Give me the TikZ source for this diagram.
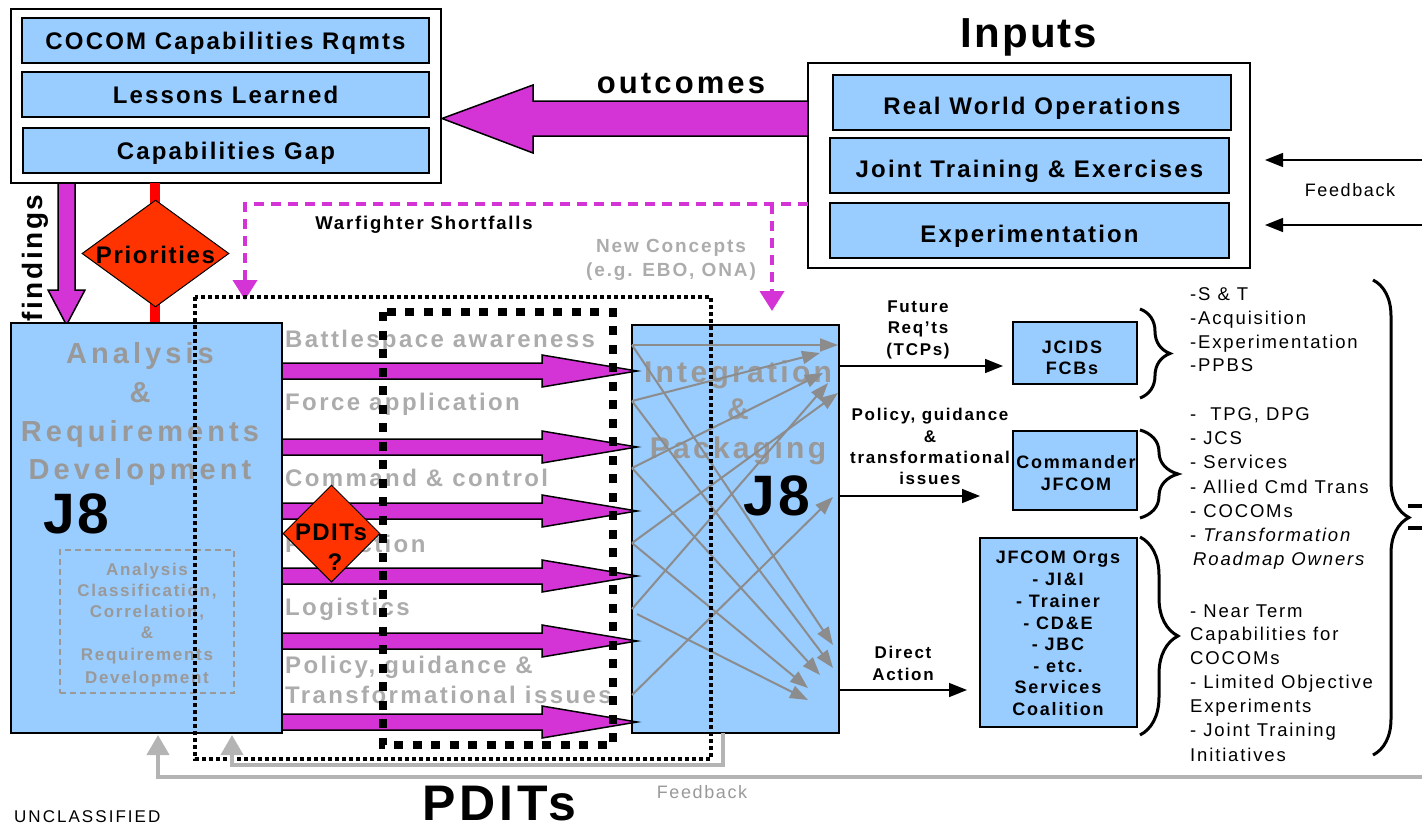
\documentclass[tikz,border=0pt]{standalone}
\usepackage{fontspec}
\setmainfont{Liberation Sans}
\usetikzlibrary{arrows.meta,shapes.geometric,decorations.pathreplacing}
\definecolor{boxblue}{RGB}{153,204,255}
\definecolor{mag}{RGB}{212,51,214}
\definecolor{prio}{RGB}{255,51,0}
\definecolor{gtxt}{RGB}{153,153,153}
\definecolor{glab}{RGB}{172,172,172}
\definecolor{garr}{RGB}{140,140,140}
\definecolor{gfb}{RGB}{180,180,180}
\newcommand\tf[3]{\fontsize{#1}{#2}\selectfont\addfontfeatures{LetterSpace=#3}}
\tikzset{
  bbox/.style={draw=black, line width=2pt, fill=boxblue, inner sep=0pt},
  wbox/.style={draw=black, line width=2pt, fill=white, inner sep=0pt},
  bigtxt/.style={font=\bfseries\tf{24}{29}{9}, text height=18pt, text depth=0pt},
  inptxt/.style={font=\bfseries\tf{24}{29}{9}, text height=23pt, text depth=0pt},
  magblock/.style={fill=mag, draw=black, line width=1.5pt, line join=miter},
  wfline/.style={draw=mag, line width=4pt, dash pattern=on 10pt off 7pt, -{Triangle[length=20pt,width=24pt]}},
  garrow/.style={draw=garr, line width=2pt, -{Triangle[length=18pt,width=13pt]}},
  blarrow/.style={draw=black, line width=1.5pt, -{Triangle[length=18pt,width=14pt]}},
  fbline/.style={draw=gfb, line width=4pt, -{Triangle[length=20pt,width=22pt]}},
  plabel/.style={text=glab, font=\bfseries\tf{24}{28}{10}, anchor=base west, inner sep=0pt},
  gbig/.style={text=gtxt, font=\bfseries\tf{29}{35}{14}, anchor=base, inner sep=0pt},
  gsmall/.style={text=gtxt, font=\bfseries\tf{17}{21}{10}, anchor=base, inner sep=0pt},
  lbl/.style={font=\bfseries\tf{17}{21}{10}, anchor=base, inner sep=0pt},
  boxtxt/.style={font=\bfseries\tf{18}{22}{10}, anchor=base, inner sep=0pt},
  rlist/.style={font=\tf{18.5}{22}{10}, anchor=base west, inner sep=0pt},
  brc/.style={draw=black, line width=3pt, decorate, decoration={brace, amplitude=#1}},
}
\begin{document}
\begin{tikzpicture}[x=1pt,y=-1pt]
\useasboundingbox (0,0) rectangle (1422,827);

% ---------- top-left findings box ----------
\node[wbox, minimum width=430pt, minimum height=174pt] (findbox) at (226,96) {};
\node[bbox, bigtxt, minimum width=407pt, minimum height=45pt] (cocom) at (225.5,40.5) {COCOM Capabilities Rqmts};
\node[bbox, bigtxt, minimum width=407pt, minimum height=45pt] (lessons) at (225.5,94.5) {Lessons Learned};
\node[bbox, bigtxt, minimum width=406pt, minimum height=45pt] (capgap) at (226,150.5) {Capabilities Gap};

% ---------- Inputs ----------
\node[font=\bfseries\tf{42}{48}{5}, anchor=base, inner sep=0pt] (inputstitle) at (1029,47) {Inputs};
\node[wbox, minimum width=442pt, minimum height=205pt] (inputs) at (1029,165.5) {};
\node[bbox, inptxt, minimum width=398pt, minimum height=55pt] (rwo) at (1032,102.5) {Real World Operations};
\node[bbox, inptxt, minimum width=399pt, minimum height=55pt] (jte) at (1029.5,165.5) {Joint Training \& Exercises};
\node[bbox, inptxt, minimum width=399pt, minimum height=55pt] (expm) at (1029.5,230.5) {Experimentation};

% feedback arrows into Inputs
\coordinate (fb1s) at (1422,160); \coordinate (fb1e) at (1265,160);
\coordinate (fb2s) at (1422,225); \coordinate (fb2e) at (1265,225);
\draw[blarrow] (fb1s) -- (fb1e);
\draw[blarrow] (fb2s) -- (fb2e);
\node[font=\tf{18}{22}{9}, anchor=base, inner sep=0pt] (fbtop) at (1350,196) {Feedback};

% ---------- outcomes arrow ----------
\coordinate (outS) at (808,118.5); \coordinate (outT) at (442,118.5);
\draw[magblock] (outS |- 0,101) -- (533,101) -- (533,85) -- (outT) -- (533,153) -- (533,136) -- (outS |- 0,136) -- cycle;
\node[font=\bfseries\tf{31}{36}{10}, anchor=base, inner sep=0pt] (outlbl) at (681,93) {outcomes};

% ---------- findings arrow ----------
\coordinate (fiS) at (66.5,183); \coordinate (fiT) at (66.5,325);
\draw[magblock] (58,183) -- (58,290) -- (48,290) -- (fiT) -- (85,290) -- (75,290) -- (75,183) -- cycle;
\node[font=\bfseries\tf{28}{32}{9}, rotate=90, inner sep=0pt] (findlbl) at (35,258) {findings};

% ---------- priorities ----------
\fill[red] (150,183) rectangle (160,324);
\node[diamond, draw=black, line width=1pt, fill=prio, minimum width=147pt, minimum height=107pt, inner sep=0pt] (priod) at (155.5,253.5) {};
\node[font=\bfseries\tf{24}{28}{7}, anchor=base, inner sep=0pt] (priot) at (155.5,263) {Priorities};

% ---------- warfighter shortfalls ----------
\coordinate (wf0) at (808,204); \coordinate (wf1) at (245,204); \coordinate (wf2) at (245,300);
\coordinate (wf3) at (772,204); \coordinate (wf4) at (772,311);
\draw[wfline] (wf0) -- (wf1) -- (wf2);
\draw[wfline] (wf3) -- (wf4);
\node[font=\bfseries\tf{18.5}{22}{10}, anchor=base, inner sep=0pt] (wflbl) at (424,229) {Warfighter Shortfalls};
\node[text=glab, font=\bfseries\tf{19}{23}{10}, anchor=base, inner sep=0pt] (nc1) at (671,252) {New Concepts};
\node[text=glab, font=\bfseries\tf{19}{23}{10}, anchor=base, inner sep=0pt] (nc2) at (671,276) {(e.g. EBO, ONA)};

% ---------- Analysis & Requirements Development ----------
\node[bbox, minimum width=271pt, minimum height=410pt] (ard) at (146.5,528) {};
\foreach \t/\yy [count=\i] in {Analysis/363, \&/402, Requirements/441, Development/479}
  \node[gbig] (ar\i) at (140,\yy) {\t};
\node[font=\bfseries\tf{57}{60}{5}, anchor=base, inner sep=0pt] (j8a) at (76.5,533) {J8};
\node[draw=gtxt, line width=2pt, dash pattern=on 6pt off 4pt, minimum width=174pt, minimum height=143pt, inner sep=0pt] (acbox) at (147,621.5) {};
\foreach \t/\yy [count=\i] in {Analysis/575, {Classification,}/596, {Correlation,}/617, \&/638, Requirements/660, Development/683}
  \node[gsmall] (ac\i) at (147,\yy) {\t};

% ---------- Integration & Packaging ----------
\node[bbox, minimum width=207pt, minimum height=408pt] (intg) at (735.5,529) {};
\foreach \t/\yy [count=\i] in {Integration/382, \&/419, Packaging/458}
  \node[text=gtxt, font=\bfseries\tf{30}{35}{11}, anchor=base, inner sep=0pt] (ip\i) at (738,\yy) {\t};
\node[font=\bfseries\tf{57}{60}{5}, anchor=base, inner sep=0pt] (j8b) at (777,515) {J8};

% ---------- PDIT labels ----------
\foreach \t/\yy [count=\i] in {Battlespace awareness/347, Force application/410, Command \& control/486, Protection/552, Logistics/615, {Policy, guidance \&}/673, Transformational issues/703}
  \node[plabel] (pl\i) at (285,\yy) {\t};

% ---------- magenta arrows ----------
\foreach \y [count=\i] in {371,447,511,576,641,722} {
  \coordinate (pa\i s) at (282,\y); \coordinate (pa\i t) at (637,\y);
  \draw[magblock] (282,\y-8) -- (542,\y-8) -- (542,\y-16) -- (pa\i t) -- (542,\y+16) -- (542,\y+8) -- (282,\y+8) -- cycle;
}

% ---------- grey arrows inside integration ----------
\foreach \sx/\sy/\ex/\ey [count=\i] in {632/345/838/345, 632/345/833/645, 632/401/820/353, 632/401/833/668, 632/468/823/373, 632/468/820/675, 632/543/838/393, 632/543/808/688, 632/609/828/383, 637/614/808/700, 632/695/833/497} {
  \coordinate (gs\i) at (\sx,\sy); \coordinate (ge\i) at (\ex,\ey);
  \draw[garrow] (gs\i) -- (ge\i);
}

% ---------- dotted frames ----------
\draw[line width=8pt, dash pattern=on 9pt off 9.5pt] (383,312) rectangle (613,745);
\draw[line width=4pt, dash pattern=on 4pt off 3pt] (195,297) rectangle (711,759);

% ---------- PDITs diamond ----------
\node[diamond, draw=black, line width=1pt, fill=prio, minimum width=97pt, minimum height=97pt, inner sep=0pt] (pditd) at (331.5,533.5) {};
\node[font=\bfseries\tf{24}{28}{6}, anchor=base, inner sep=0pt] (pditt) at (331,540) {PDITs};
\node[font=\bfseries\tf{24}{28}{6}, anchor=base, inner sep=0pt] (pditq) at (335,570) {?};

% ---------- outputs ----------
\coordinate (fut0) at (839,366); \coordinate (fut1) at (1003,366);
\coordinate (pol0) at (839,496); \coordinate (pol1) at (980,496);
\coordinate (dir0) at (839,690); \coordinate (dir1) at (967,690);
\draw[blarrow] (fut0) -- (fut1);
\draw[blarrow] (pol0) -- (pol1);
\draw[blarrow] (dir0) -- (dir1);
\foreach \t/\yy [count=\i] in {Future/312, Req’ts/333, {(TCPs)}/355}
  \node[lbl] (fl\i) at (918,\yy) {\t};
\foreach \t/\yy [count=\i] in {{Policy, guidance}/420, \&/442, transformational/463, issues/484}
  \node[lbl] (pg\i) at (930,\yy) {\t};
\foreach \t/\yy [count=\i] in {Direct/658, Action/680}
  \node[lbl] (da\i) at (903,\yy) {\t};

\node[bbox, minimum width=124pt, minimum height=62pt] (jcids) at (1075,353) {};
\node[boxtxt] (jc1) at (1072,353) {JCIDS};
\node[boxtxt] (jc2) at (1072,374) {FCBs};
\node[bbox, minimum width=124pt, minimum height=79pt] (cmdr) at (1075,470.5) {};
\node[boxtxt] (cm1) at (1076,468) {Commander};
\node[boxtxt] (cm2) at (1076,490) {JFCOM};
\node[bbox, minimum width=157pt, minimum height=189pt] (orgs) at (1058.5,632.5) {};
\foreach \t/\yy [count=\i] in {JFCOM Orgs/563, - JI\&I/585, - Trainer/607, - CD\&E/629, - JBC/650, - etc./672, Services/693, Coalition/715}
  \node[boxtxt] (og\i) at (1058,\yy) {\t};

% braces
\coordinate (b1a) at (1140,309); \coordinate (b1b) at (1140,398);
\coordinate (b2a) at (1140,430); \coordinate (b2b) at (1140,518);
\coordinate (b3a) at (1140,537); \coordinate (b3b) at (1140,735);
\coordinate (b4a) at (1373,280); \coordinate (b4b) at (1373,755);
\draw[brc=30pt] (b1a) -- (b1b);
\draw[brc=38pt] (b2a) -- (b2b);
\draw[brc=38pt] (b3a) -- (b3b);
\draw[brc=36pt] (b4a) -- (b4b);
\coordinate (m1a) at (1408,506); \coordinate (m1b) at (1422,506);
\coordinate (m2a) at (1408,528); \coordinate (m2b) at (1422,528);
\draw[line width=4pt] (m1a) -- (m1b);
\draw[line width=4pt] (m2a) -- (m2b);

% right lists
\foreach \xx/\t/\yy [count=\i] in {1190/-S \& T/300, 1190/-Acquisition/324, 1190/-Experimentation/348, 1190/-PPBS/371,
  1190/{-\ \ TPG, DPG}/420, 1190/- JCS/444, 1190/- Services/468, 1190/- Allied Cmd Trans/493, 1190/- COCOMs/517,
  1190/- \textit{Transformation}/541, 1193/\textit{Roadmap Owners}/565,
  1190/- Near Term/617, 1190/Capabilities for/640, 1190/COCOMs/664, 1190/- Limited Objective/688,
  1190/Experiments/712, 1190/- Joint Training/736, 1190/Initiatives/761}
  \node[rlist] (rl\i) at (\xx,\yy) {\t};

% ---------- bottom feedback ----------
\coordinate (fo0) at (1422,777); \coordinate (fo1) at (158,777); \coordinate (fo2) at (158,735);
\draw[fbline] (fo0) -- (fo1) -- (fo2);
\coordinate (fi0) at (723,733); \coordinate (fi1) at (723,765); \coordinate (fi2) at (232,765); \coordinate (fi3) at (232,735);
\draw[fbline] (fi0) -- (fi1) -- (fi2) -- (fi3);
\node[text=gtxt, font=\tf{18}{22}{9}, anchor=base, inner sep=0pt] (fbbot) at (702,798) {Feedback};
\node[font=\bfseries\tf{50}{56}{8}, anchor=base, inner sep=0pt] (pditsbig) at (499,820) {PDITs};
\node[font=\tf{17}{20}{12}, anchor=base west, inner sep=0pt] (uncl) at (14,822) {UNCLASSIFIED};
\end{tikzpicture}
\end{document}
